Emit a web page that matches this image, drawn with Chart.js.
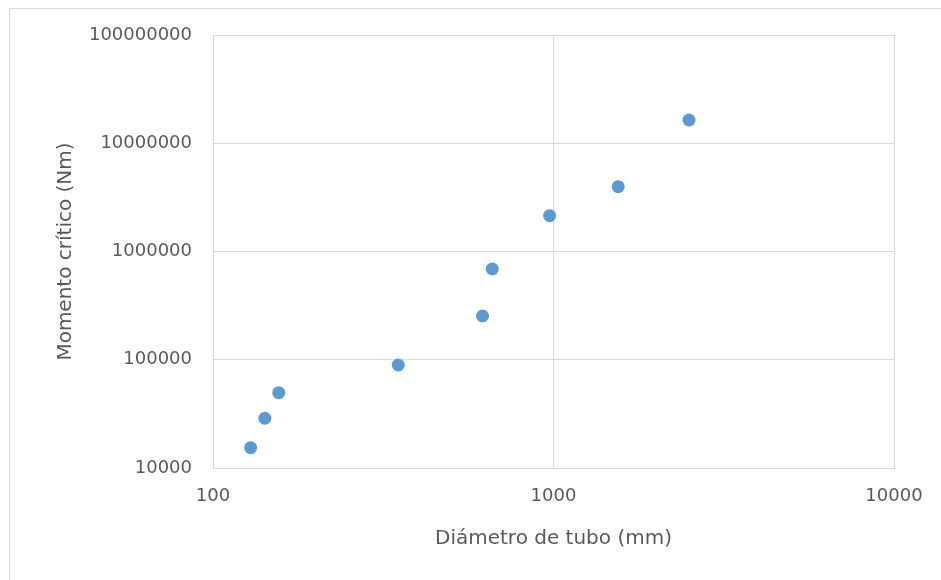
<!DOCTYPE html>
<html>
<head>
<meta charset="utf-8">
<script src="https://cdn.jsdelivr.net/npm/chart.js@4.4.0/dist/chart.umd.min.js"></script>
<style>
  html, body { margin: 0; padding: 0; background: #fff; overflow: hidden; }
  .frame { position: absolute; left: 9px; top: 8px; width: 1000px; height: 1000px; border: 1px solid #d9d9d9; }
  #chart { position: absolute; left: 0; top: 0; }
</style>
</head>
<body>
<div class="frame"></div>
<canvas id="chart" width="941" height="580"></canvas>
<script>
// diámetro (mm) vs momento crítico (Nm)
const diameters = [129, 142, 156, 350, 619, 661, 974, 1549, 2500];
const moments = [15400, 28800, 49600, 89400, 253500, 689000, 2143000, 3970000, 16400000];

const xTicks = [100, 1000, 10000];
const yTicks = [10000, 100000, 1000000, 10000000, 100000000];

const TEXT = '#595959';
const GRID = '#d9d9d9';
const FONT = 'DejaVu Sans';

const points = diameters.map((d, i) => ({ x: d, y: moments[i] }));

new Chart(document.getElementById('chart'), {
  type: 'scatter',
  data: {
    datasets: [
      {
        data: points,
        backgroundColor: '#5b9bd5',
        borderWidth: 0,
        pointRadius: 6.5,
      },
    ],
  },
  options: {
    responsive: false,
    animation: false,
    layout: { padding: { left: 54, top: 35, right: 47, bottom: 29 } },
    plugins: {
      legend: { display: false },
      tooltip: { enabled: false },
    },
    scales: {
      x: {
        type: 'logarithmic',
        position: 'bottom',
        min: 100,
        max: 10000,
        afterBuildTicks: (scale) => { scale.ticks = xTicks.map((v) => ({ value: v })); },
        afterFit: (scale) => { scale.height = 83; },
        grid: { color: GRID, drawTicks: false },
        border: { color: GRID },
        ticks: {
          padding: 18,
          color: TEXT,
          font: { family: FONT, size: 18 },
          autoSkip: false,
          maxRotation: 0,
          callback: (v) => String(v),
        },
        title: {
          display: true,
          text: 'Diámetro de tubo (mm)',
          color: TEXT,
          font: { family: FONT, size: 20 },
          padding: 0,
        },
      },
      y: {
        type: 'logarithmic',
        min: 10000,
        max: 100000000,
        afterBuildTicks: (scale) => { scale.ticks = yTicks.map((v) => ({ value: v })); },
        afterFit: (scale) => { scale.width = 159; },
        grid: { color: GRID, drawTicks: false },
        border: { color: GRID },
        ticks: {
          padding: 21,
          color: TEXT,
          font: { family: FONT, size: 18 },
          autoSkip: false,
          callback: (v) => String(v),
        },
        title: {
          display: true,
          text: 'Momento crítico (Nm)',
          color: TEXT,
          font: { family: FONT, size: 20 },
          padding: 0,
        },
      },
    },
  },
});
</script>
</body>
</html>
